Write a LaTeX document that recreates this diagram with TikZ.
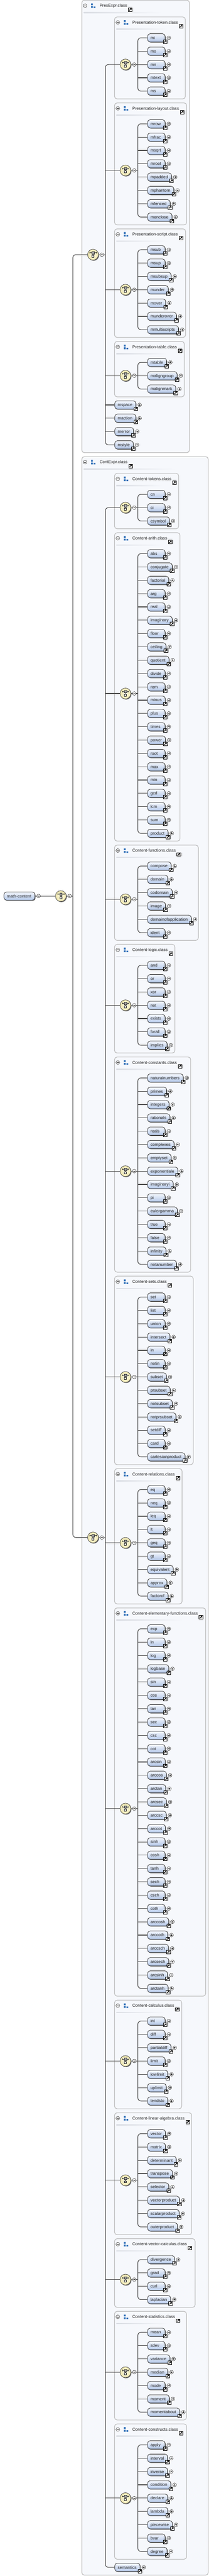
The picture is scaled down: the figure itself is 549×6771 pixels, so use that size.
\documentclass[tikz,border=0pt]{standalone}
\usepackage{fontspec}
\setmainfont{Liberation Sans}
\usetikzlibrary{shadows,calc}

\definecolor{lnc}{HTML}{4A4A4A}
\definecolor{gbord}{HTML}{BBBBBB}
\definecolor{gfill}{HTML}{F6F8FC}
\definecolor{sepc}{HTML}{DADDE3}
\definecolor{etop}{HTML}{F4F7FD}
\definecolor{ebot}{HTML}{B3C7E8}
\definecolor{ebord}{HTML}{2E2E2E}
\definecolor{cin}{HTML}{FFFDE4}
\definecolor{cout}{HTML}{EFE6AE}
\definecolor{icblue}{HTML}{2A6CB6}
\definecolor{txt}{HTML}{1E1E1E}
\definecolor{shd}{HTML}{6E6E6E}

\newlength\elw
\newcommand\elfont{\fontsize{8.25pt}{9pt}\selectfont}
\newcommand\eltext[1]{\settowidth\elw{#1}\ifdim\elw<21.75pt\elw=21.75pt\fi\hspace*{5.8pt}\makebox[\elw][l]{#1}\hspace*{6.95pt}}

\tikzset{
  conn/.style={draw=lnc, line width=1.15pt},
  gbox/.style={draw=gbord, line width=1.2pt, fill=gfill, rounded corners=5pt},
  elem/.style={draw=ebord, line width=0.8pt, rounded corners=5pt, top color=etop, bottom color=ebot,
    minimum height=16.2pt, minimum width=0pt, inner xsep=0pt, inner ysep=0pt,
    text height=5.9pt, text depth=0pt, font=\elfont, text=txt,
    drop shadow={shadow xshift=1.2pt, shadow yshift=-1.2pt, fill=shd, opacity=1}},
  gtitle/.style={anchor=west, inner sep=0pt, text height=5.9pt, text depth=0pt, font=\elfont, text=txt},
  compo/.style={circle, draw=lnc, line width=0.8pt, minimum size=21.4pt, inner sep=0pt,
    inner color=cin, outer color=cout,
    drop shadow={shadow xshift=1.3pt, shadow yshift=-1.3pt, fill=shd, opacity=1}},
  pics/lnk/.style={code={
    \draw[draw=black, line width=0.6pt, fill=white] (-3.7pt,-3.5pt) rectangle (3.7pt,3.5pt);
    \draw[black, line width=1.1pt] (-2.2pt,-2pt) -- (1.2pt,1.4pt);
    \fill[black] (2.6pt,2.5pt) -- (-0.9pt,2.5pt) -- (2.6pt,-1pt) -- cycle;
  }},
  pics/plusc/.style={code={
    \draw[draw=black!85, line width=0.55pt, fill=white] (0,0) circle (3.6pt);
    \draw[black!85, line width=0.55pt] (-2pt,0) -- (2pt,0) (0,-2pt) -- (0,2pt);
  }},
  pics/minusc/.style={code={
    \draw[draw=black!85, line width=0.55pt, fill=white] (0,0) circle (3.6pt);
    \draw[black!85, line width=0.55pt] (-2pt,0) -- (2pt,0);
  }},
  pics/choiceic/.style={code={
    \draw[black!80, line width=0.6pt] (-6.3pt,3.6pt) -- (6.3pt,3.6pt)
      (-6.3pt,2pt) -- (-6.3pt,5.2pt) (6.3pt,2pt) -- (6.3pt,5.2pt);
    \draw[black!80, line width=0.5pt, fill=gray!75] (-2.2pt,1.4pt) rectangle (2.2pt,5.8pt);
    \draw[black!80, line width=0.5pt] (0,1.4pt) -- (0,-0.9pt);
    \draw[black!90, line width=0.6pt, fill=white] (-2pt,-0.9pt) rectangle (2pt,-4.9pt);
  }},
}

% element box with link icon and plus circle
\newcommand\elemnode[4]{%
  \node[elem, anchor=west] (#1) at (#2,#3) {\eltext{#4}};
  \pic at ([xshift=-0.45pt, yshift=1.05pt]#1.south east) {lnk};
  \pic at ([xshift=7.05pt]#1.east) {plusc};
}

% group frame: name, left, top, right, bottom, title
\newcommand\grpframe[6]{%
  \draw[gbox] (#2,#3) rectangle (#4,#5);
  \pgfmathsetmacro\sepr{#2+0.75*(#4-#2)}%
  \shade[left color=sepc, right color=gfill] (#2+5,#3+31.2) rectangle (\sepr,#3+33.4);
  \pic at (#2+8.7,#3+14.4) {minusc};
  \fill[icblue] (#2+24.7,#3+8.5) rectangle (#2+29.2,#3+13.3)
                (#2+24.7,#3+15.5) rectangle (#2+29.2,#3+20.3)
                (#2+31.2,#3+16.6) rectangle (#2+36,#3+20.3);
  \node[gtitle] (#1) at (#2+46.6,#3+14.4) {#6};
  \pic at ($(#1.east)+(7.7,10)$) {lnk};
}

% inner group: id, top, right, title, children
\newcommand\ingrp[5]{%
  \foreach \lab [count=\k] in {#5} {\xdef\nch{\k}}%
  \pgfmathsetmacro\ya{#2+55}%
  \pgfmathsetmacro\yb{#2+55+(\nch-1)*35}%
  \pgfmathsetmacro\ybot{\yb+20.5}%
  \pgfmathsetmacro\yc{(\ya+\yb)/2}%
  \grpframe{t-#1}{301.3}{#2}{#3}{\ybot}{#4}%
  \draw[conn, rounded corners=6pt] (387.7,\ya) -- (362.6,\ya) -- (362.6,\yb) -- (387.7,\yb);
  \draw[conn] (330,\yc) -- (362.6,\yc);
  \foreach \lab [count=\k] in {#5} {%
    \pgfmathsetmacro\yy{\ya+(\k-1)*35}%
    \ifnum\k>1 \ifnum\k<\nch \draw[conn] (362.6,\yy) -- (387.7,\yy);\fi\fi
    \elemnode{e-\lab}{387.7}{\yy}{\lab}%
  }%
  \node[compo] (c-#1) at (330,\yc) {};
  \pic at (c-#1) {choiceic};
  \pic at (353.2,\yc) {minusc};
}

\begin{document}
\begin{tikzpicture}[x=0.75pt,y=-0.75pt]
\useasboundingbox (0,0) rectangle (549,6771);
\fill[white] (0,0) rectangle (549,6771);

% ---------- outer frames ----------
\grpframe{t-pres}{215.2}{0.5}{498.3}{1189.8}{PresExpr.class}
\grpframe{t-cont}{215.2}{1200.3}{547.8}{6768.6}{ContExpr.class}

% ---------- PresExpr ----------
\ingrp{ptok}{44.5}{487.6}{Presentation-token.class}{mi,mo,mn,mtext,ms}
\ingrp{play}{270.5}{491}{Presentation-layout.class}{mrow,mfrac,msqrt,mroot,mpadded,mphantom,mfenced,menclose}
\ingrp{pscr}{601.5}{488.2}{Presentation-script.class}{msub,msup,msubsup,munder,mover,munderover,mmultiscripts}
\ingrp{ptab}{897.5}{484.9}{Presentation-table.class}{mtable,maligngroup,malignmark}
\elemnode{e-mspace}{301.3}{1064.3}{mspace}
\elemnode{e-maction}{301.3}{1099.3}{maction}
\elemnode{e-merror}{301.3}{1134.3}{merror}
\elemnode{e-mstyle}{301.3}{1169.3}{mstyle}

\draw[conn, rounded corners=6pt] (c-ptok.west) -- (277.2,169.5) -- (277.2,1169.3) -- (e-mstyle.west);
\foreach \n in {play,pscr,ptab} \draw[conn] (c-\n.west) -- ++(-38.53,0);
\foreach \n in {mspace,maction,merror} \draw[conn] (e-\n.west) -- ++(-24.1,0);
\draw[conn] (244.7,669.4) -- (277.2,669.4);
\node[compo] (c-pres) at (244.7,669.4) {};
\pic at (c-pres) {choiceic};
\pic at (267.9,669.4) {minusc};

% ---------- ContExpr ----------
\ingrp{ctok}{1244.3}{470}{Content-tokens.class}{cn,ci,csymbol}
\ingrp{carith}{1400.3}{473.5}{Content-arith.class}{abs,conjugate,factorial,arg,real,imaginary,floor,ceiling,quotient,divide,rem,minus,plus,times,power,root,max,min,gcd,lcm,sum,product}
\ingrp{cfun}{2221.3}{521.7}{Content-functions.class}{compose,domain,codomain,image,domainofapplication,ident}
\ingrp{clog}{2482.3}{460}{Content-logic.class}{and,or,xor,not,exists,forall,implies}
\ingrp{cconst}{2778.3}{501.6}{Content-constants.class}{naturalnumbers,primes,integers,rationals,reals,complexes,emptyset,exponentiale,imaginaryi,pi,eulergamma,true,false,infinity,notanumber}
\ingrp{csets}{3354.3}{508.3}{Content-sets.class}{set,list,union,intersect,in,notin,subset,prsubset,notsubset,notprsubset,setdiff,card,cartesianproduct}
\ingrp{crel}{3860.3}{479}{Content-relations.class}{eq,neq,leq,lt,geq,gt,equivalent,approx,factorof}
\ingrp{celem}{4226.3}{541}{Content-elementary-functions.class}{exp,ln,log,logbase,sin,cos,tan,sec,csc,cot,arcsin,arccos,arctan,arcsec,arccsc,arccot,sinh,cosh,tanh,sech,csch,coth,arccosh,arccoth,arccsch,arcsech,arcsinh,arctanh}
\ingrp{ccalc}{5257.3}{478}{Content-calculus.class}{int,diff,partialdiff,limit,lowlimit,uplimit,tendsto}
\ingrp{clin}{5553.3}{504.3}{Content-linear-algebra.class}{vector,matrix,determinant,transpose,selector,vectorproduct,scalarproduct,outerproduct}
\ingrp{cvec}{5884.3}{513.3}{Content-vector-calculus.class}{divergence,grad,curl,laplacian}
\ingrp{cstat}{6075.3}{490.5}{Content-statistics.class}{mean,sdev,variance,median,mode,moment,momentabout}
\ingrp{ccons}{6371.3}{491}{Content-constructs.class}{apply,interval,inverse,condition,declare,lambda,piecewise,bvar,degree}
\elemnode{e-semantics}{301.3}{6748.1}{semantics}

\draw[conn, rounded corners=6pt] (c-ctok.west) -- (277.2,1334.3) -- (277.2,6748.1) -- (e-semantics.west);
\foreach \n in {carith,cfun,clog,cconst,csets,crel,celem,ccalc,clin,cvec,cstat,ccons} \draw[conn] (c-\n.west) -- ++(-38.53,0);
\draw[conn] (244.7,4041.2) -- (277.2,4041.2);
\node[compo] (c-cont) at (244.7,4041.2) {};
\pic at (c-cont) {choiceic};
\pic at (267.9,4041.2) {minusc};

% ---------- top level ----------
\draw[conn, rounded corners=6pt] (c-pres.west) -- (191.7,669.4) -- (191.7,4041.2) -- (c-cont.west);
\node[elem, anchor=west] (e-root) at (10,2355.3) {\eltext{math-content}};
\draw[conn] (e-root.east) -- (160,2355.3);
\draw[conn] (160,2355.3) -- (191.7,2355.3);
\pic at ([xshift=7.05pt]e-root.east) {minusc};
\node[compo] (c-top) at (160,2355.3) {};
\pic at (c-top) {choiceic};
\pic at (183.2,2355.3) {minusc};
\end{tikzpicture}
\end{document}
